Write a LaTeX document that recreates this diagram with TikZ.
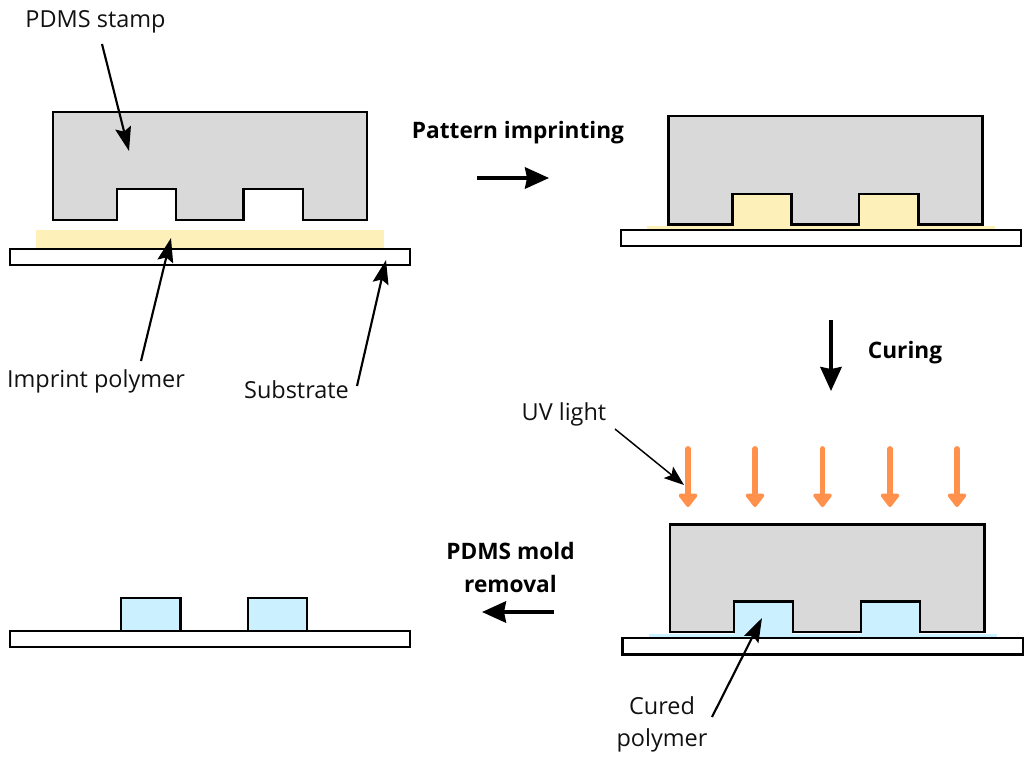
\documentclass[tikz,border=0pt]{standalone}
\usepackage{fontspec}
\setmainfont{Open Sans}
\usetikzlibrary{arrows.meta}
\tikzset{
  x=0.75pt,y=-0.75pt,
  outline/.style={draw=black,line width=2.05pt,line join=miter},
  stampbox/.style={outline,fill=stampgrey},
  subbox/.style={outline,fill=white},
  label/.style={inner sep=0pt,font=\fontsize{17.6pt}{23.5pt}\selectfont,text=labelink,align=center},
  steplabel/.style={inner sep=0pt,font=\fontsize{17pt}{25pt}\selectfont\bfseries,align=center},
  callout/.style={draw=black,line width=1.6pt,-{Stealth[length=18pt,width=12pt,inset=3pt]}},
  thincallout/.style={draw=black,line width=1.1pt,-{Stealth[length=15pt,width=11pt,inset=3pt]}},
  flow/.style={draw=black,line width=2.6pt,-{Stealth[length=18pt,width=16pt,inset=1.5pt]}},
  uvarrow/.style={draw=uvorange,line width=4.4pt,line cap=round,-{Triangle[length=11pt,width=16pt,round]}},
}
\definecolor{stampgrey}{HTML}{D9D9D9}
\definecolor{uncured}{HTML}{FDF0B8}
\definecolor{cured}{HTML}{CBF0FF}
\definecolor{uvorange}{HTML}{FF914D}
\definecolor{labelink}{HTML}{111111}
\begin{document}
\begin{tikzpicture}
\useasboundingbox (0,0) rectangle (1024,757);
% --- panel 1
\fill[uncured] (36,230) rectangle (384,249);
\draw[subbox] (10,249) rectangle (410,265);
\draw[stampbox] (53,112) -- (367,112) -- (367,220) -- (303,220) -- (303,189) -- (243.5,189) -- (243.5,220) -- (176,220) -- (176,189) -- (117,189) -- (117,220) -- (53,220) -- cycle;
% --- panel 2
\fill[uncured] (647,226) rectangle (995,230);
\fill[uncured] (732.5,194) rectangle (791.5,226);
\fill[uncured] (859,194) rectangle (918,226);
\draw[subbox] (621,230) rectangle (1021,246);
\draw[stampbox] (668.5,116) -- (982.5,116) -- (982.5,224.5) -- (918.5,224.5) -- (918.5,194) -- (859,194) -- (859,224.5) -- (791.5,224.5) -- (791.5,194) -- (732.5,194) -- (732.5,224.5) -- (668.5,224.5) -- cycle;
% --- panel 3
\fill[cured] (649,634) rectangle (997,638);
\fill[cured] (734,601.5) rectangle (793,634);
\fill[cured] (861,601.5) rectangle (920,634);
\draw[subbox] (622.5,638) rectangle (1023,654.5);
\draw[stampbox] (670,524.5) -- (984.5,524.5) -- (984.5,632) -- (920,632) -- (920,601.5) -- (861,601.5) -- (861,632) -- (793,632) -- (793,601.5) -- (734,601.5) -- (734,632) -- (670,632) -- cycle;
% --- panel 4
\draw[outline,fill=cured] (121,598) rectangle (180.5,631);
\draw[outline,fill=cured] (248,598) rectangle (307,631);
\draw[subbox] (10,631) rectangle (410,647);
% --- UV arrows
\coordinate (uva1) at (688,449); \coordinate (uvb1) at (688,507);
\coordinate (uva2) at (755,449); \coordinate (uvb2) at (755,507);
\coordinate (uva3) at (822.5,449); \coordinate (uvb3) at (822.5,507);
\coordinate (uva4) at (890,449); \coordinate (uvb4) at (890,507);
\coordinate (uva5) at (957,449); \coordinate (uvb5) at (957,507);
\foreach \i in {1,...,5} \draw[uvarrow] (uva\i) -- (uvb\i);
% --- labels
\node[label] (stamp) at (95.5,22) {PDMS stamp};
\node[label] (imprint) at (96,381) {Imprint polymer};
\node[label] (substrate) at (296.5,390) {Substrate};
\node[label] (uv) at (564,414.5) {UV light};
\node[label] (curedl) at (662,724.5) {Cured\\polymer};
\node[steplabel] (s1) at (518,133) {Pattern imprinting};
\node[steplabel] (s2) at (905,353) {Curing};
\node[steplabel] (s3) at (510.5,567.5) {PDMS mold\\removal};
% --- callout ends
\coordinate (t1a) at (102,44); \coordinate (t1b) at (129,151);
\coordinate (t2a) at (141,361); \coordinate (t2b) at (171,238);
\coordinate (t3a) at (357,386); \coordinate (t3b) at (386,260);
\coordinate (t4a) at (615,429); \coordinate (t4b) at (684,485);
\coordinate (t5a) at (712,717); \coordinate (t5b) at (762,618);
\draw[callout] (t1a) -- (t1b);
\draw[callout] (t2a) -- (t2b);
\draw[callout] (t3a) -- (t3b);
\draw[thincallout] (t4a) -- (t4b);
\draw[callout] (t5a) -- (t5b);
% --- step arrows
\coordinate (f1a) at (477,178); \coordinate (f1b) at (549,178);
\coordinate (f2a) at (831,320); \coordinate (f2b) at (831,391);
\coordinate (f3a) at (554,612); \coordinate (f3b) at (482,612);
\draw[flow] (f1a) -- (f1b);
\draw[flow] (f2a) -- (f2b);
\draw[flow] (f3a) -- (f3b);
\end{tikzpicture}
\end{document}
